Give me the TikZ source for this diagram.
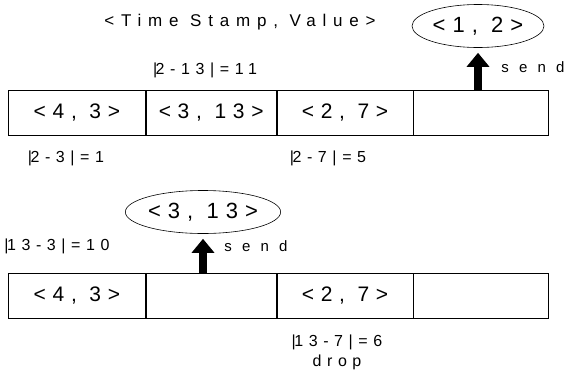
\documentclass[tikz,border=0pt]{standalone}
\usepackage{fontspec}
\setmainfont{Liberation Sans}
\newfontfamily\cellfont{Liberation Sans}[LetterSpace=32]
\newfontfamily\titlefont{Liberation Sans}[LetterSpace=40]
\newfontfamily\labfont{Liberation Sans}[LetterSpace=35]
\newfontfamily\sendfont{Liberation Sans}[LetterSpace=68]
\usetikzlibrary{arrows.meta,shapes.geometric}
\tikzset{
  cell/.style={draw, line width=0.8pt, minimum height=45pt, inner sep=0pt, anchor=north west,
    font=\cellfont\fontsize{21}{21}\selectfont},
  oval/.style={draw, ellipse, line width=0.6pt, inner sep=0pt, minimum height=43pt,
    font=\cellfont\fontsize{22}{22}\selectfont},
  lab/.style={inner sep=0pt, font=\labfont\fontsize{16}{16}\selectfont},
  sendlab/.style={inner sep=0pt, font=\sendfont\fontsize{15}{15}\selectfont},
  bigarrow/.style={line width=8pt, -{Triangle[width=22pt,length=14pt]}},
}
\newcommand\lbar{|\kern-1.5pt}
\begin{document}
\begin{tikzpicture}[x=1pt,y=-1pt]
\useasboundingbox (0,0) rectangle (564,378);
% top part
\node[inner sep=0pt, font=\titlefont\fontsize{17}{17}\selectfont] (title) at (240,22) {<Time Stamp, Value>};
\node[oval, minimum width=132pt] (e1) at (478,26) {<1, 2>};
\node[lab] (d1) at (205,70) {\lbar 2-13|=11};
\node[cell, minimum width=137pt] (c11) at (8,90) {<4, 3>};
\node[cell, minimum width=130pt] (c12) at (c11.north east) {<3, 13>};
\node[cell, minimum width=136pt] (c13) at (c12.north east) {<2, 7>};
\node[cell, minimum width=135pt] (c14) at (c13.north east) {};
\coordinate (a1s) at (c14.north -| e1.south);
\coordinate (a1e) at ([yshift=-5pt]e1.south);
\draw[bigarrow] (a1s) -- (a1e);
\node[sendlab] (s1) at (533,67) {send};
\node[lab] (d2) at (66,158) {\lbar 2-3|=1};
\node[lab] (d3) at (328,158) {\lbar 2-7|=5};
% bottom part
\node[oval, minimum width=155pt] (e2) at (203,212) {<3, 13>};
\node[lab] (d4) at (57,246) {\lbar 13-3|=10};
\node[sendlab] (s2) at (256,246) {send};
\node[cell, minimum width=137pt] (c21) at (8,273) {<4, 3>};
\node[cell, minimum width=130pt] (c22) at (c21.north east) {};
\node[cell, minimum width=136pt] (c23) at (c22.north east) {<2, 7>};
\node[cell, minimum width=135pt] (c24) at (c23.north east) {};
\coordinate (a2s) at (c22.north -| e2.south);
\coordinate (a2e) at ([yshift=-5pt]e2.south);
\draw[bigarrow] (a2s) -- (a2e);
\node[lab] (d5) at (337,342) {\lbar 13-7|=6};
\node[lab] (dr) at (337,362) {drop};
\end{tikzpicture}
\end{document}
